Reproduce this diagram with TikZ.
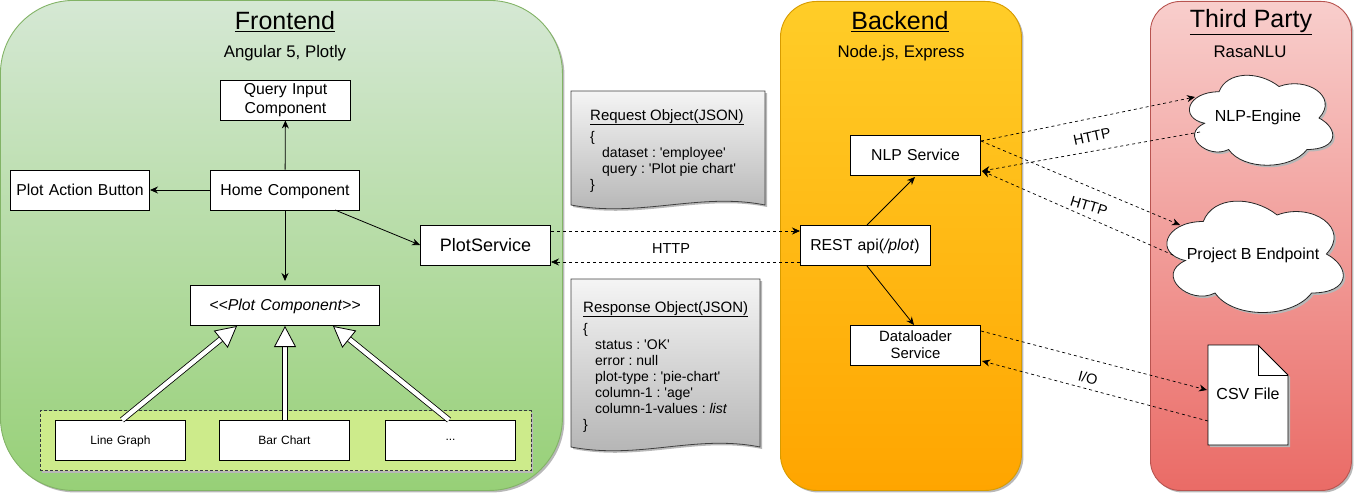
\documentclass[tikz,border=0pt]{standalone}
\usepackage{fontspec}
\setmainfont{Liberation Sans}[Ligatures=TeXOff]
\usetikzlibrary{arrows.meta,shadows}
\frenchspacing
\newcommand{\fsize}[1]{\fontsize{#1}{16}\selectfont}
\newcommand{\doctitle}[1]{\underline{\fsize{15}#1}}
\newcommand{\cloudpath}[4]{% left, top, width, height
  \path[cloudshape, shift={(#1,#2)}, x=#3pt, y=-#4pt]
    (0.25,0.25) .. controls (0.05,0.25) and (0,0.5) .. (0.16,0.55)
    .. controls (0,0.66) and (0.18,0.9) .. (0.31,0.8)
    .. controls (0.4,1) and (0.7,1) .. (0.8,0.8)
    .. controls (1,0.8) and (1,0.6) .. (0.875,0.5)
    .. controls (1,0.3) and (0.8,0.1) .. (0.625,0.2)
    .. controls (0.5,0.05) and (0.3,0.05) .. (0.25,0.25) -- cycle;}
\definecolor{frontTop}{HTML}{D5E8D4}
\definecolor{frontBot}{HTML}{97D077}
\definecolor{frontEdge}{HTML}{82B366}
\definecolor{backTop}{HTML}{FFCD28}
\definecolor{backBot}{HTML}{FFA500}
\definecolor{backEdge}{HTML}{D79B00}
\definecolor{thirdTop}{HTML}{F8CECC}
\definecolor{thirdBot}{HTML}{EA6B66}
\definecolor{thirdEdge}{HTML}{B85450}
\definecolor{groupFill}{HTML}{CDEB8B}
\definecolor{groupEdge}{HTML}{36393D}

\begin{document}
\begin{tikzpicture}[
  x=1pt, y=-1pt,
  every node/.style={inner sep=0pt},
  softshadow/.style={drop shadow={shadow xshift=2pt, shadow yshift=-2pt, fill=black!28, opacity=1}},
  panel/.style={anchor=north west, draw, line width=0.9pt, softshadow, shading angle=0},
  box/.style={draw, fill=white, line width=0.9pt, align=center, text width=#1 pt-0.9pt, minimum height=40pt, text depth=1pt, font=\fsize{15.8}},
  box/.default=131,
  twolines/.style={text depth=},
  leafbox/.style={box, font=\fsize{12}},
  heading/.style={font=\fsize{25}},
  subheading/.style={font=\fsize{16.8}, text depth=1pt},
  paper/.style={draw=black!75, line width=0.8pt, top color=black!4, bottom color=black!30, softshadow},
  doctext/.style={anchor=north west, align=left, font=\fsize{14}},
  cloudshape/.style={draw=black!85, fill=white, line width=0.8pt, softshadow},
  arrow/.style={draw, line width=0.8pt, -{Stealth[length=8pt,width=7pt]}},
  darrow/.style={arrow, line width=0.7pt, dash pattern=on 3pt off 3pt},
  hollow/.style={draw, line width=0.8pt, double=white, double distance=4.4pt, -{Triangle[length=21pt,width=22pt,fill=white,line width=0.8pt]}},
  tag/.style={font=\fsize{14.5}}]

  \useasboundingbox (0,0) rectangle (1354,495);

  % panels
  \node[panel, frontEdge, top color=frontTop, bottom color=frontBot, minimum width=562pt, minimum height=490pt, rounded corners=73pt] (front) at (0,0) {};
  \node[panel, backEdge, top color=backTop, bottom color=backBot, minimum width=241pt, minimum height=489pt, rounded corners=36pt] (back) at (780,1) {};
  \node[panel, thirdEdge, top color=thirdTop, bottom color=thirdBot, minimum width=201pt, minimum height=489pt, rounded corners=30pt] (third) at (1150,1) {};

  % titles
  \node[heading] (fronttitle) at (285,22) {\underline{Frontend}};
  \node[subheading] (frontsub) at (285,52) {Angular 5, Plotly};
  \node[heading] (backtitle) at (900,22) {\underline{Backend}};
  \node[subheading] (backsub) at (901,52) {Node.js, Express};
  \node[heading] (thirdtitle) at (1251,22) {\underline{Third Party}};
  \node[subheading] (thirdsub) at (1250,52) {RasaNLU};

  % frontend vertices
  \node[box, twolines] (query) at (285.5,100) {Query Input\\[2.5pt]Component};
  \node[box=140] (action) at (80,190) {Plot Action Button};
  \node[box=150] (home) at (285,190) {Home Component};
  \node[box, font=\fsize{18}] (plotservice) at (485.5,245.5) {PlotService};
  \node[box=190] (plotcomp) at (285,305) {\textit{<<Plot Component>>}};
  \node[draw=groupEdge, fill=groupFill, line width=0.7pt, dash pattern=on 3pt off 2pt, softshadow, minimum width=491pt, minimum height=60pt] (group) at (285.5,440.5) {};
  \node[leafbox] (line) at (120.5,440.5) {Line Graph};
  \node[leafbox] (bar) at (284.5,440.5) {Bar Chart};
  \node[leafbox] (more) at (450.5,440.5) {...};

  % backend vertices
  \node[box] (nlpservice) at (915.5,155) {NLP Service};
  \node[box] (rest) at (865,245.5) {REST api(\textit{/plot})};
  \node[box, twolines, font=\fsize{14.9}] (loader) at (915.5,345) {Dataloader\\[1pt]Service};

  % third party vertices
  \cloudpath{1179}{65.5}{160}{105}
  \node[font=\fsize{16}, text depth=1pt] (engine) at (1258,116) {NLP-Engine};
  \cloudpath{1154}{189}{197}{130}
  \node[font=\fsize{16}, text depth=1pt] (projectb) at (1253,254) {Project B Endpoint};
  \path[draw, fill=white, line width=0.9pt, softshadow] (1208,345) -- (1258,345) -- (1288,375) -- (1288,445) -- (1208,445) -- cycle;
  \draw[line width=0.9pt] (1258,345) -- (1258,375) -- (1288,375);
  \node[font=\fsize{16}, text depth=1pt] (csv) at (1248,394) {CSV File};

  % request and response papers
  \path[paper] (571,91) -- (765,91) -- (765,205) .. controls (700,192) and (640,218) .. (571,205) -- cycle;
  \node[doctext] (request) at (590,109) {\doctitle{Request Object(JSON)}\\[5pt]\{\\\hspace*{12pt}dataset : 'employee'\\\hspace*{12pt}query : 'Plot pie chart'\\\}};
  \path[paper] (571,279) -- (760,279) -- (760,447) .. controls (695,434) and (640,460) .. (571,447) -- cycle;
  \node[doctext] (response) at (583,301) {\doctitle{Response Object(JSON)}\\[5pt]\{\\\hspace*{12pt}status : 'OK'\\\hspace*{12pt}error : null\\\hspace*{12pt}plot-type : 'pie-chart'\\\hspace*{12pt}column-1 : 'age'\\\hspace*{12pt}column-1-values : \textit{list}\\\}};

  % end points off the node centres
  \coordinate (hometail) at (335,210);
  \coordinate (homestop) at (285,281);
  \coordinate (servicein) at (420,245);
  \coordinate (tipleft) at (237,326);
  \coordinate (tipmid) at (285,326);
  \coordinate (tipright) at (333,326);
  \coordinate (tailleft) at (122,420);
  \coordinate (tailmid) at (285,420);
  \coordinate (tailright) at (449,420);
  \coordinate (plotout) at (551,231);
  \coordinate (restin) at (800,231);
  \coordinate (restout) at (800,262);
  \coordinate (plotin) at (551,262);
  \coordinate (resttop) at (867,225);
  \coordinate (nlpbase) at (915,177);
  \coordinate (restbase) at (867,266);
  \coordinate (loadertop) at (914,325);
  \coordinate (nlpout) at (981,141);
  \coordinate (nlpin) at (982,171);
  \coordinate (enginein) at (1195,97);
  \coordinate (engineout) at (1200,132);
  \coordinate (projectin) at (1180,225);
  \coordinate (projectout) at (1173,255);
  \coordinate (loaderout) at (981,331);
  \coordinate (loaderin) at (982,361);
  \coordinate (csvin) at (1207,390);
  \coordinate (csvout) at (1208,421);

  % solid arrows
  \draw[arrow] (home) -- (query);
  \draw[arrow] (home) -- (action);
  \draw[arrow] (home.south) -- (homestop);
  \draw[arrow] (hometail) -- (servicein);
  \draw[arrow] (resttop) -- (nlpbase);
  \draw[arrow] (restbase) -- (loadertop);

  % inheritance arrows
  \draw[hollow] (tailleft) -- (tipleft);
  \draw[hollow] (tailmid) -- (tipmid);
  \draw[hollow] (tailright) -- (tipright);

  % dashed arrows
  \draw[darrow] (plotout) -- (restin);
  \draw[darrow] (restout) -- (plotin);
  \draw[darrow] (nlpout) -- (enginein);
  \draw[darrow] (engineout) -- (nlpin);
  \draw[darrow] (nlpout) -- (projectin);
  \draw[darrow] (projectout) -- (nlpin);
  \draw[darrow] (loaderout) -- (csvin);
  \draw[darrow] (csvout) -- (loaderin);

  % labels on the arrows
  \node[tag] (httpmid) at (671,249) {HTTP};
  \node[tag, rotate=12] (httpup) at (1092,137) {HTTP};
  \node[tag, rotate=-17] (httpdown) at (1089,206) {HTTP};
  \node[tag, rotate=-15] (iotag) at (1088,378) {I/O};
\end{tikzpicture}
\end{document}
